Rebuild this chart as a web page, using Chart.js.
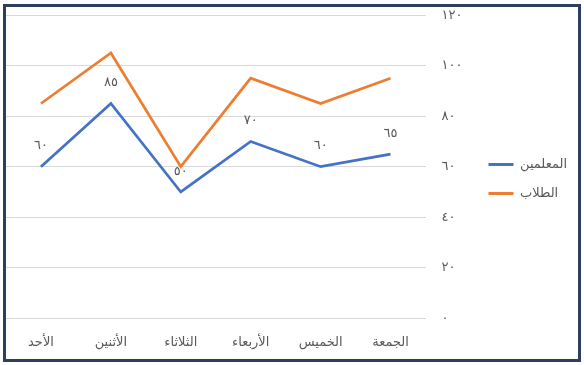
<!DOCTYPE html>
<html>
<head>
<meta charset="utf-8">
<script src="https://cdn.jsdelivr.net/npm/chart.js"></script>
<style>
  html, body { margin: 0; padding: 0; background: #ffffff; }
  #box { position: relative; width: 584px; height: 365px; }
  #frame { position: absolute; left: 3px; top: 4px; width: 578px; height: 358px; box-sizing: border-box; border: 3px solid #2E3E5E; pointer-events: none; }
  canvas { position: absolute; left: 0; top: 0; }
</style>
</head>
<body>
<div id="box">
  <canvas id="c" width="584" height="365"></canvas>
  <div id="frame"></div>
</div>
<script>
const categories = ['الأحد', 'الأثنين', 'الثلاثاء', 'الأربعاء', 'الخميس', 'الجمعة'];
const teachers = [60, 85, 50, 70, 60, 65];
const students = [85, 105, 60, 95, 85, 95];
const seriesNames = ['المعلمين', 'الطلاب'];
const yTickLabels = ['٠', '٢٠', '٤٠', '٦٠', '٨٠', '١٠٠', '١٢٠'];

const arabicDigits = ['٠','١','٢','٣','٤','٥','٦','٧','٨','٩'];
function toArabic(n) { return String(n).replace(/[0-9]/g, d => arabicDigits[+d]); }

const FONT = 'Arial, "Liberation Sans", "DejaVu Sans", sans-serif';
const TEXT = '#595959';

const valueLabels = {
  id: 'valueLabels',
  afterDatasetsDraw(chart) {
    const ctx = chart.ctx;
    const meta = chart.getDatasetMeta(0);
    const ds = chart.data.datasets[0];
    ctx.save();
    ctx.font = '13px ' + FONT;
    ctx.fillStyle = TEXT;
    ctx.textAlign = 'center';
    ctx.textBaseline = 'middle';
    meta.data.forEach((pt, i) => {
      ctx.fillText(toArabic(ds.data[i]), pt.x, pt.y - 21);
    });
    ctx.restore();
  }
};

new Chart(document.getElementById('c'), {
  type: 'line',
  data: {
    labels: categories,
    datasets: [
      { label: seriesNames[0], data: teachers, borderColor: '#4472C4', backgroundColor: '#4472C4', borderWidth: 2.75, pointRadius: 0, tension: 0 },
      { label: seriesNames[1], data: students, borderColor: '#ED7D31', backgroundColor: '#ED7D31', borderWidth: 2.75, pointRadius: 0, tension: 0 }
    ]
  },
  options: {
    responsive: false,
    animation: false,
    layout: { padding: { left: 6, top: 0, right: 7, bottom: 7 } },
    plugins: {
      legend: {
        position: 'right',
        labels: {
          boxWidth: 25, boxHeight: 3, color: TEXT, font: { family: FONT, size: 13 }, padding: 16,
          generateLabels: (chart) => Chart.defaults.plugins.legend.labels.generateLabels(chart).map(l => Object.assign(l, { lineWidth: 0 }))
        }
      },
      tooltip: { enabled: false }
    },
    scales: {
      x: {
        offset: true,
        grid: { display: false },
        border: { display: false },
        ticks: { color: TEXT, font: { family: FONT, size: 13 }, padding: 8, maxRotation: 0 }
      },
      y: {
        position: 'right',
        min: 0, max: 120,
        ticks: { stepSize: 20, color: TEXT, font: { family: FONT, size: 13 }, padding: 16,
                 callback: (v) => yTickLabels[Math.round(v / 20)] },
        grid: { color: '#D9D9D9', drawTicks: false, lineWidth: 1 },
        border: { display: false },
        afterFit: (s) => { s.width = 47; s.paddingTop = 15; s.paddingBottom = 8; }
      }
    }
  },
  plugins: [valueLabels]
});
</script>
</body>
</html>
